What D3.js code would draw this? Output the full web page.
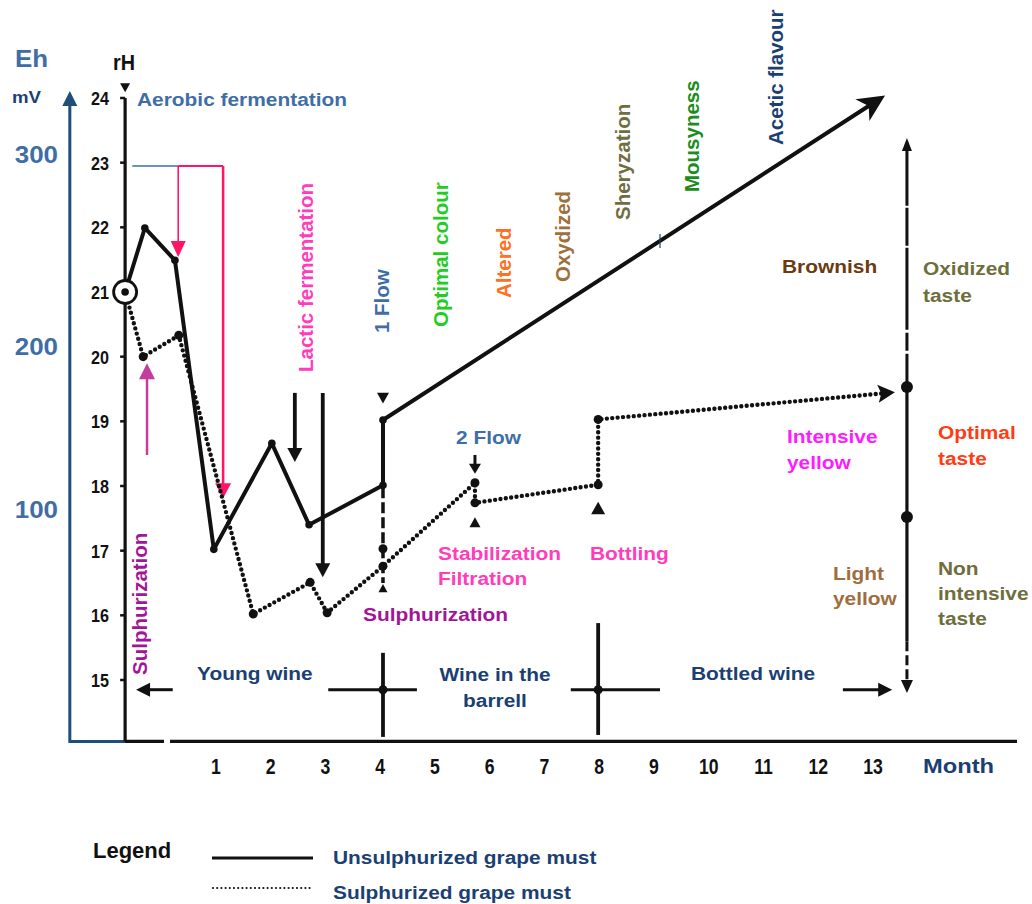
<!DOCTYPE html>
<html>
<head>
<meta charset="utf-8">
<script src="https://cdn.jsdelivr.net/npm/d3@7"></script>
<style>
    body { margin: 0; background: #fff; }
    #chart { width: 1032px; height: 904px; }
    text { font-family: 'Liberation Sans', Arial, sans-serif; }
</style>
</head>
<body>
<div id="chart"></div>
<script>
//Colores fijos
const COLOR_STEEL = '#3f6ea6',
COLOR_NAVY = '#1b3f73',
COLOR_PINK = '#ff3dbb',
COLOR_PURPLE = '#a31597',
COLOR_RED_PINK = '#ff1466',
COLOR_INK = '#111';

//Ticks
const monthTicks = [1, 2, 3, 4, 5, 6, 7, 8, 9, 10, 11, 12, 13];
const rhTicks = [15, 16, 17, 18, 19, 20, 21, 22, 23, 24];
const ehTicks = ['300', '200', '100'];
const ehTickRh = [23.12, 20.15, 17.63];

//Series (month, rH)
const unsulphMonth = [-0.66, -0.30, 0.25, 0.96, 2.02, 2.70, 4.05, 4.05, 13.22];
const unsulphRh = [21.0, 21.99, 21.49, 17.02, 18.66, 17.40, 18.01, 19.02, 24.04];
const sulphMonth = [-0.66, -0.33, 0.32, 1.68, 2.72, 3.03, 4.05, 5.73, 5.73, 7.98, 7.98, 13.40];
const sulphRh = [21.0, 20.0, 20.33, 16.02, 16.51, 16.04, 16.76, 18.05, 17.74, 18.02, 19.03, 19.45];

//Annotation arrows (month, rH from -> to)
const lacticArrows = [[2.44, 19.44, 2.44, 18.37], [2.95, 19.44, 2.95, 16.59]];
const flow2Arrow = [5.73, 18.48, 5.73, 18.19];
const sulphArrow = [-0.26, 18.48, -0.26, 19.90];
const bracketRh = 22.95;
const bracketMonths = [-0.53, 0.31, 1.13];
const bracketEnds = [21.54, 17.81];
const phaseRh = 14.85;
const phaseCrosses = [[4.05, 3.05, 4.67, 15.42, 14.12], [7.98, 7.48, 9.11, 15.88, 14.15]];
const phaseLeft = [0.21, -0.46];
const phaseRight = [12.45, 13.35];
const rightAxis = {m: 13.62, top: 23.38, bottom: 14.80, dots: [19.53, 17.52]};
const downTriangles = [[-0.66, 24.16, 10], [4.05, 19.36, 12]];
const upTriangles = [[5.73, 17.44, 11], [7.98, 17.66, 14], [4.05, 16.42, 9]];
const axisMonth = -0.66, ehAxisMonth = -1.67, baseRh = 14.05;

let svg = d3.select('#chart')
    .append('svg')
    .attr('width', 1032)
    .attr('height', 904);

let x = d3.scaleLinear().domain([1, 13]).range([216, 873]);
let y = d3.scaleLinear().domain([15, 24]).range([680, 98]);
let pt = function(m, r) { return [x(m), y(r)]; };
let line = d3.line();

function head(g, a, b, len, half, color, notch) {
    let dx = b[0] - a[0], dy = b[1] - a[1], L = Math.hypot(dx, dy), ux = dx / L, uy = dy / L;
    let bx = b[0] - ux * len, by = b[1] - uy * len;
    let nx = b[0] - ux * len * (notch || 1), ny = b[1] - uy * len * (notch || 1);
    g.append('path')
        .attr('d', 'M' + b[0] + ',' + b[1] + 'L' + (bx - uy * half) + ',' + (by + ux * half) +
            'L' + nx + ',' + ny + 'L' + (bx + uy * half) + ',' + (by - ux * half) + 'Z')
        .attr('fill', color);
}

function arrow(g, a, b, width, len, half, color) {
    let dx = b[0] - a[0], dy = b[1] - a[1], L = Math.hypot(dx, dy);
    let e = [b[0] - dx / L * len * 0.7, b[1] - dy / L * len * 0.7];
    g.append('path').attr('d', line([a, e])).attr('stroke', color).attr('stroke-width', width).attr('fill', 'none');
    head(g, a, b, len, half, color);
}

function shorten(pts, by) {
    let a = pts[pts.length - 2], b = pts[pts.length - 1];
    let dx = b[0] - a[0], dy = b[1] - a[1], L = Math.hypot(dx, dy);
    return pts.slice(0, -1).concat([[b[0] - dx / L * by, b[1] - dy / L * by]]);
}

function hText(g, lines, px, py, color, opts) {
    opts = opts || {};
    let t = g.append('text')
        .attr('transform', 'translate(' + px + ',' + py + ') scale(' + (opts.sx || 1.13) + ',1)')
        .attr('fill', color)
        .attr('text-anchor', opts.anchor || 'start')
        .style('font-size', (opts.size || 18.5) + 'px')
        .style('font-weight', 'bold');
    lines.forEach(function(l, i) {
        t.append('tspan').attr('x', 0).attr('y', i * (opts.lh || 26)).text(l);
    });
}

function vText(g, txt, px, py, color) {
    g.append('text')
        .attr('transform', 'translate(' + px + ',' + py + ') rotate(-90)')
        .attr('fill', color)
        .style('font-size', '20.5px')
        .style('font-weight', 'bold')
        .text(txt);
}

let g = svg.append('g');

//Eje Eh
g.append('path')
    .attr('d', line([pt(ehAxisMonth, 24.0), pt(ehAxisMonth, baseRh), pt(axisMonth + 0.1, baseRh)]))
    .attr('stroke', '#1f4e7a').attr('stroke-width', 3).attr('fill', 'none');
head(g, pt(ehAxisMonth, 20), pt(ehAxisMonth, 24.11), 15, 7.5, '#1f4e7a');
ehTicks.forEach(function(t, i) {
    hText(g, [t], 58, y(ehTickRh[i]) + 8, COLOR_STEEL, {size: 24, sx: 1.08, anchor: 'end'});
});
hText(g, ['Eh'], 15, 67, COLOR_STEEL, {size: 24, sx: 1.08});
hText(g, ['mV'], 12, 103, COLOR_NAVY, {size: 16.5, sx: 1.13});

//Eje rH
g.append('path')
    .attr('d', line([pt(axisMonth, 24), pt(axisMonth, baseRh)]))
    .attr('stroke', COLOR_INK).attr('stroke-width', 3.2).attr('fill', 'none');
g.selectAll('.rh-tick').data(rhTicks).enter().append('line')
    .attr('x1', x(axisMonth) - 5).attr('x2', x(axisMonth))
    .attr('y1', function(d) { return y(d); }).attr('y2', function(d) { return y(d); })
    .attr('stroke', COLOR_INK).attr('stroke-width', 2.5);
g.selectAll('.rh-label').data(rhTicks).enter().append('text')
    .attr('transform', function(d) { return 'translate(109,' + (y(d) + 7) + ') scale(0.85,1)'; })
    .attr('text-anchor', 'end')
    .attr('fill', COLOR_INK)
    .style('font-size', '19px').style('font-weight', 'bold')
    .text(function(d) { return d; });
g.append('text').attr('transform', 'translate(124,70) scale(0.9,1)').attr('text-anchor', 'middle')
    .attr('fill', COLOR_INK).style('font-size', '22px').style('font-weight', 'bold').text('rH');

//Eje meses
g.append('path').attr('d', line([pt(axisMonth, baseRh), pt(0.05, baseRh)]))
    .attr('stroke', COLOR_INK).attr('stroke-width', 3.2);
g.append('path').attr('d', line([pt(0.16, baseRh), pt(15.63, baseRh)]))
    .attr('stroke', COLOR_INK).attr('stroke-width', 3.2);
g.selectAll('.m-label').data(monthTicks).enter().append('text')
    .attr('transform', function(d) { return 'translate(' + x(d) + ',774) scale(0.8,1)'; })
    .attr('text-anchor', 'middle')
    .attr('fill', COLOR_INK)
    .style('font-size', '22px').style('font-weight', 'bold')
    .text(function(d) { return d; });

//Anotaciones rosas
g.append('path').attr('d', line([pt(bracketMonths[0], bracketRh), pt(bracketMonths[1], bracketRh)]))
    .attr('stroke', COLOR_STEEL).attr('stroke-width', 1.5);
g.append('path').attr('d', line([pt(bracketMonths[1], bracketRh), pt(bracketMonths[2], bracketRh)]))
    .attr('stroke', COLOR_RED_PINK).attr('stroke-width', 2);
arrow(g, pt(bracketMonths[1], bracketRh), pt(bracketMonths[1], bracketEnds[0]), 1.6, 16, 7.5, COLOR_RED_PINK);
arrow(g, pt(bracketMonths[2], bracketRh), pt(bracketMonths[2], bracketEnds[1]), 2.5, 15, 8, COLOR_RED_PINK);
arrow(g, pt(sulphArrow[0], sulphArrow[1]), pt(sulphArrow[2], sulphArrow[3]), 2.5, 16, 8, '#c43c9c');

//Flechas fermentacion lactica y trasiego
lacticArrows.forEach(function(a) {
    arrow(g, pt(a[0], a[1]), pt(a[2], a[3]), 3.8, 14, 7.5, COLOR_INK);
});
arrow(g, pt(flow2Arrow[0], flow2Arrow[1]), pt(flow2Arrow[2], flow2Arrow[3]), 3, 10, 6, COLOR_INK);

//Vertical discontinua en el mes 4
g.append('path').attr('d', line([pt(4.05, 17.98), pt(4.05, 16.5)]))
    .attr('stroke', COLOR_INK).attr('stroke-width', 3.5).attr('stroke-dasharray', '11 4');
[17.03].forEach(function(r) {
    g.append('circle').attr('cx', x(4.05)).attr('cy', y(r)).attr('r', 4.5).attr('fill', COLOR_INK);
});

//Serie sin sulfitar
let unsulphPts = unsulphMonth.map(function(m, i) { return pt(m, unsulphRh[i]); });
g.append('path').attr('d', line(shorten(unsulphPts, 14)))
    .attr('fill', 'none').attr('stroke', COLOR_INK).attr('stroke-width', 4)
    .attr('stroke-linejoin', 'round');
head(g, unsulphPts[unsulphPts.length - 2], unsulphPts[unsulphPts.length - 1], 27, 13, COLOR_INK, 0.72);

//Serie sulfitada
let sulphPts = sulphMonth.map(function(m, i) { return pt(m, sulphRh[i]); });
g.append('path').attr('d', line(shorten(sulphPts, 8)))
    .attr('fill', 'none').attr('stroke', COLOR_INK).attr('stroke-width', 4.4)
    .attr('stroke-linecap', 'round').attr('stroke-dasharray', '0 5.4');
head(g, sulphPts[sulphPts.length - 2], sulphPts[sulphPts.length - 1], 17, 9, COLOR_INK, 0.8);

//Vertices
g.selectAll('.v-un').data(unsulphPts.slice(1, -1)).enter().append('circle')
    .attr('cx', function(d) { return d[0]; }).attr('cy', function(d) { return d[1]; })
    .attr('r', 3.8).attr('fill', COLOR_INK);
g.selectAll('.v-su').data(sulphPts.slice(1, -1)).enter().append('circle')
    .attr('cx', function(d) { return d[0]; }).attr('cy', function(d) { return d[1]; })
    .attr('r', 4.5).attr('fill', COLOR_INK);

//Marca en la flecha
let a7 = unsulphPts[7], a8 = unsulphPts[8];
let tickX = x(9.11), tickY = a7[1] + (a8[1] - a7[1]) * (tickX - a7[0]) / (a8[0] - a7[0]);
g.append('line').attr('x1', tickX).attr('x2', tickX).attr('y1', tickY - 7).attr('y2', tickY + 7)
    .attr('stroke', COLOR_NAVY).attr('stroke-width', 1.2);

//Circulo inicial
g.append('circle').attr('cx', x(axisMonth)).attr('cy', y(21)).attr('r', 11.5)
    .attr('fill', '#fff').attr('stroke', COLOR_INK).attr('stroke-width', 2.8);
g.append('circle').attr('cx', x(axisMonth)).attr('cy', y(21)).attr('r', 3.8).attr('fill', COLOR_INK);

//Triangulos
function tri(m, r, w, dir) {
    let cx = x(m), cy = y(r), h = w * 0.9;
    return 'M' + (cx - w / 2) + ',' + (cy - dir * h / 2) + 'L' + (cx + w / 2) + ',' + (cy - dir * h / 2) +
        'L' + cx + ',' + (cy + dir * h / 2) + 'Z';
}
downTriangles.forEach(function(d) { g.append('path').attr('d', tri(d[0], d[1], d[2], 1)).attr('fill', COLOR_INK); });
upTriangles.forEach(function(d) { g.append('path').attr('d', tri(d[0], d[1], d[2], -1)).attr('fill', COLOR_INK); });

//Fases
arrow(g, pt(phaseLeft[0], phaseRh), pt(phaseLeft[1], phaseRh), 3, 14, 7, COLOR_INK);
arrow(g, pt(phaseRight[0], phaseRh), pt(phaseRight[1], phaseRh), 3, 14, 7, COLOR_INK);
phaseCrosses.forEach(function(c) {
    g.append('path').attr('d', line([pt(c[1], phaseRh), pt(c[2], phaseRh)]))
        .attr('stroke', COLOR_INK).attr('stroke-width', 3);
    g.append('path').attr('d', line([pt(c[0], c[3]), pt(c[0], c[4])]))
        .attr('stroke', COLOR_INK).attr('stroke-width', 3.8);
    g.append('circle').attr('cx', x(c[0])).attr('cy', y(phaseRh)).attr('r', 4.5).attr('fill', COLOR_INK);
});

//Eje derecho
let rx = x(rightAxis.m);
g.append('path').attr('d', line([pt(rightAxis.m, rightAxis.top - 0.15), pt(rightAxis.m, rightAxis.dots[0])]))
    .attr('stroke', COLOR_INK).attr('stroke-width', 3).attr('stroke-dasharray', '58 2 38 2 82 3 18 3 60');
g.append('path').attr('d', line([pt(rightAxis.m, rightAxis.dots[0]), pt(rightAxis.m, 15.6)]))
    .attr('stroke', COLOR_INK).attr('stroke-width', 3.2);
g.append('path').attr('d', line([pt(rightAxis.m, 15.6), pt(rightAxis.m, rightAxis.bottom + 0.15)]))
    .attr('stroke', COLOR_INK).attr('stroke-width', 3).attr('stroke-dasharray', '10 4');
head(g, pt(rightAxis.m, 20), pt(rightAxis.m, rightAxis.top), 13, 5, COLOR_INK);
head(g, pt(rightAxis.m, 17), pt(rightAxis.m, rightAxis.bottom), 13, 6, COLOR_INK);
rightAxis.dots.forEach(function(r) {
    g.append('circle').attr('cx', rx).attr('cy', y(r)).attr('r', 6).attr('fill', COLOR_INK);
});

//Textos
hText(g, ['Aerobic fermentation'], 137, 106, COLOR_STEEL);
hText(g, ['Brownish'], 782, 273, '#6b3a10');
hText(g, ['Oxidized', 'taste'], 923, 275, '#6e6e3c', {lh: 27});
hText(g, ['Intensive', 'yellow'], 787, 443, '#ff1aff');
hText(g, ['Optimal', 'taste'], 938, 439, '#ff3c14');
hText(g, ['Light', 'yellow'], 833, 580, '#a06d3c', {lh: 25});
hText(g, ['Non', 'intensive', 'taste'], 938, 575, '#6e6e3c', {lh: 25});
hText(g, ['2 Flow'], 456, 444, COLOR_STEEL);
hText(g, ['Stabilization', 'Filtration'], 438, 560, COLOR_PINK, {lh: 25});
hText(g, ['Bottling'], 590, 560, COLOR_PINK);
hText(g, ['Sulphurization'], 363, 621, COLOR_PURPLE);
hText(g, ['Young wine'], 197, 680, COLOR_NAVY);
hText(g, ['Wine in the', 'barrell'], 495, 681, COLOR_NAVY, {anchor: 'middle'});
hText(g, ['Bottled wine'], 691, 680, COLOR_NAVY);
hText(g, ['Month'], 923, 773, COLOR_NAVY, {size: 21});

vText(g, 'Lactic fermentation', 313, 372, COLOR_PINK);
vText(g, '1 Flow', 389, 333, COLOR_STEEL);
vText(g, 'Optimal colour', 448, 327, '#22cc22');
vText(g, 'Altered', 511, 298, '#ff7020');
vText(g, 'Oxydized', 570, 282, '#a0703a');
vText(g, 'Sheryzation', 630, 220, '#6e6e40');
vText(g, 'Mousyness', 699, 192, '#1c8c1c');
vText(g, 'Acetic flavour', 783, 145, COLOR_NAVY);
vText(g, 'Sulphurization', 147, 675, COLOR_PURPLE);

//Leyenda
g.append('text').attr('x', 93).attr('y', 858).attr('fill', COLOR_INK)
    .style('font-size', '22px').style('font-weight', 'bold').text('Legend');
g.append('line').attr('x1', 212).attr('x2', 313).attr('y1', 858).attr('y2', 858)
    .attr('stroke', COLOR_INK).attr('stroke-width', 3);
g.append('line').attr('x1', 213).attr('x2', 312).attr('y1', 888).attr('y2', 888)
    .attr('stroke', COLOR_INK).attr('stroke-width', 2.2)
    .attr('stroke-linecap', 'round').attr('stroke-dasharray', '0 4.2');
hText(g, ['Unsulphurized grape must'], 333, 864, COLOR_NAVY);
hText(g, ['Sulphurized grape must'], 333, 899, COLOR_NAVY);
</script>
</body>
</html>
